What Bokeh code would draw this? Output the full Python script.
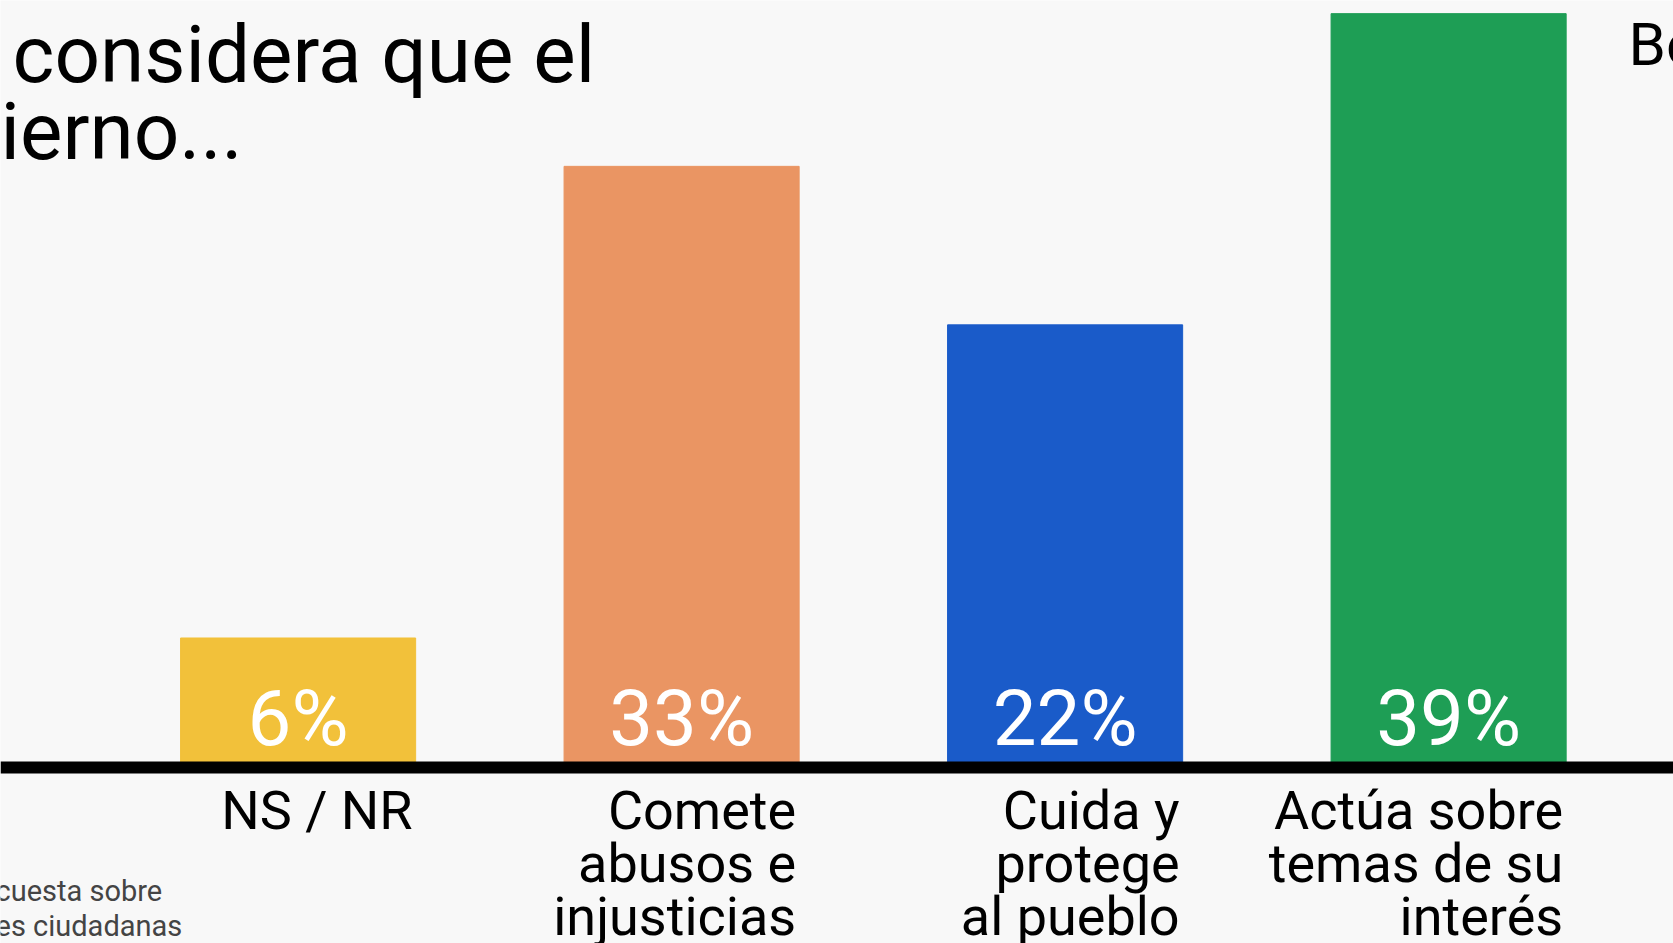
from bokeh.plotting import figure
from bokeh.models import ColumnDataSource, Range1d, Span, Label
from bokeh.core.properties import value
from bokeh.embed import file_html
from bokeh.resources import INLINE

# --- data -------------------------------------------------------------
categories = ["NS / NR", "Comete\nabusos e\ninjusticias", "Cuida y\nprotege\nal pueblo",
              "Actúa sobre\ntemas de su\ninterés"]
pct_values = [6, 33, 22, 39]                 # printed percentages
bar_heights = [6.7, 31.1, 22.9, 39.0]        # bar heights as drawn in the picture
bar_colors = ["#F2C13A", "#EA9563", "#1A5BC9", "#1E9E55"]
title_lines = ["considera que el", "ierno..."]
note_lines = ["cuesta sobre", "es ciudadanas"]
corner_text = "Bo"

FONT = "Roboto"
BG = "#f8f8f8"

W, H = 1673, 943

idx = list(range(len(categories)))
bar_w = 0.613
src = ColumnDataSource(dict(
    x=idx,
    top=bar_heights,
    color=bar_colors,
    pct=[f"{v}%" for v in pct_values],
    cat=categories,
    xr=[i + bar_w / 2 for i in idx],
))

p = figure(width=W, height=H, output_backend="svg", toolbar_location=None,
           x_range=Range1d(-0.776, 3.5864), y_range=Range1d(-9.105, 39.68),
           min_border=0, min_border_left=0, min_border_right=0,
           min_border_top=0, min_border_bottom=0)
p.background_fill_color = BG
p.border_fill_color = BG
p.outline_line_color = None
p.xaxis.visible = False
p.yaxis.visible = False
p.xgrid.visible = False
p.ygrid.visible = False

p.vbar(x="x", top="top", bottom=0, width=bar_w, color="color", source=src)

p.add_layout(Span(location=0, dimension="width", line_color="black", line_width=12))

p.text(x="x", y=0, text="pct", source=src, text_align="center",
       text_baseline="top", y_offset=-95, text_color="white",
       text_font=value(FONT), text_font_size="78px")

p.text(x="xr", y=0, text="cat", source=src, text_align="right",
       text_baseline="top", x_offset=-3, y_offset=11, text_color="black",
       text_font=value(FONT), text_font_size="54px", text_line_height=0.845)

# title (cut off at the left like the reference)
title_x = [12, 0]
for i, t in enumerate(title_lines):
    p.add_layout(Label(x=title_x[i], y=936 - i * 77, x_units="screen", y_units="screen",
                       text=t, text_font=FONT, text_font_size="80px",
                       text_color="black", text_baseline="top"))

for i, t in enumerate(note_lines):
    p.add_layout(Label(x=-5, y=70 - i * 35, x_units="screen", y_units="screen",
                       text=t, text_font=FONT, text_font_size="29px",
                       text_color="#444444", text_baseline="top"))

p.add_layout(Label(x=1628, y=935, x_units="screen", y_units="screen",
                   text=corner_text, text_font=FONT, text_font_size="60px",
                   text_color="black", text_baseline="top"))

open("out.html", "w").write(file_html(p, INLINE))
